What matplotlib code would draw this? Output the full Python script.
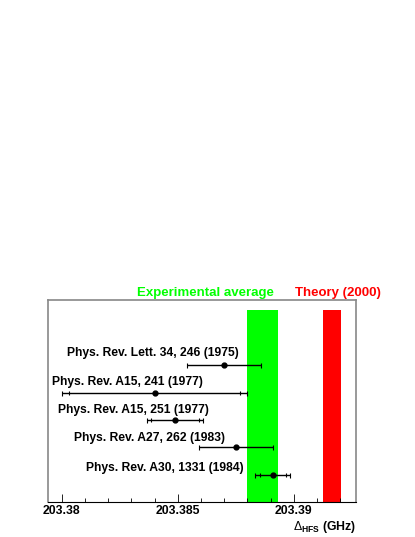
import matplotlib
matplotlib.use('Agg')
import matplotlib.pyplot as plt
import numpy as np

plt.rcParams['font.family'] = ['Liberation Sans', 'DejaVu Sans']
plt.rcParams['mathtext.fontset'] = 'custom'
plt.rcParams['mathtext.rm'] = 'Liberation Sans'
plt.rcParams['mathtext.bf'] = 'Liberation Sans:bold'

# measurements (GHz), newest at the bottom
refs = ['Phys. Rev. Lett. 34, 246 (1975)',
        'Phys. Rev. A15, 241 (1977)',
        'Phys. Rev. A15, 251 (1977)',
        'Phys. Rev. A27, 262 (1983)',
        'Phys. Rev. A30, 1331 (1984)']
values = [203.3870, 203.3840, 203.38488, 203.38751, 203.3891]
err_tot = [0.0016, 0.0040, 0.0012, 0.0016, 0.00075]
err_stat = [None, 0.00368, 0.00105, None, 0.00055]

exp_avg, exp_err = 203.38865, 0.00067
theory, theory_err = 203.39165, 0.00040

# label placement (left edge in GHz, height above row)
label_x = [203.38022, 203.37957, 203.37984, 203.38054, 203.38103]
label_dy = [0.47, 0.40, 0.37, 0.34, 0.26]

fig = plt.figure(figsize=(4.15, 5.37), dpi=100)
ax = fig.add_axes([0.1157, 0.0652, 0.7422, 0.3762])

ypos = np.arange(len(refs), 0, -1)

# bands
ax.fill_betweenx([0, 7.05], exp_avg - exp_err, exp_avg + exp_err, color='#00ff00', lw=0)
ax.fill_betweenx([0, 7.05], theory - theory_err, theory + theory_err, color='#ff0000', lw=0)

ax.errorbar(values, ypos, xerr=err_tot, fmt='o', color='black', ms=3.5,
            elinewidth=1.0, capsize=1.8, capthick=0.8)
for v, y, s in zip(values, ypos, err_stat):
    if s is not None:
        ax.plot([v - s, v + s], [y, y], ls='none', marker='|', ms=3.5,
                mew=0.8, color='black')

for r, lx, y, dy in zip(refs, label_x, ypos, label_dy):
    ax.text(lx, y + dy, r, fontsize=8.75, fontweight='bold', va='center', ha='left')

ax.set_xlim(203.3794, 203.39269)
ax.set_ylim(0, 7.4)
ax.set_xticks([203.38, 203.385, 203.39])
ax.set_xticklabels(['203.38', '203.385', '203.39'], fontsize=8.8, fontweight='bold')
ax.set_xticks(np.arange(203.380, 203.3925, 0.001), minor=True)
ax.tick_params(axis='x', which='major', direction='in', length=6, width=0.6, pad=2)
ax.tick_params(axis='x', which='minor', direction='in', length=3, width=0.6)
ax.set_yticks([])
for side in ['top', 'left', 'right']:
    ax.spines[side].set_color('#888888')
    ax.spines[side].set_linewidth(1.2)
ax.spines['bottom'].set_color('black')
ax.spines['bottom'].set_linewidth(0.8)

fig.text(0.3294, 0.4549, 'Experimental average', color='#00ff00', fontsize=9.5,
         fontweight='bold', va='center', ha='left')
fig.text(0.711, 0.4549, 'Theory (2000)', color='#ff0000', fontsize=9.5,
         fontweight='bold', va='center', ha='left')
fig.text(0.858, 0.0186, r'$\Delta_{\mathbf{HFS}}$ (GHz)', fontsize=8.8,
         fontweight='bold', va='center', ha='right')

fig.savefig('out.png', dpi=100)
